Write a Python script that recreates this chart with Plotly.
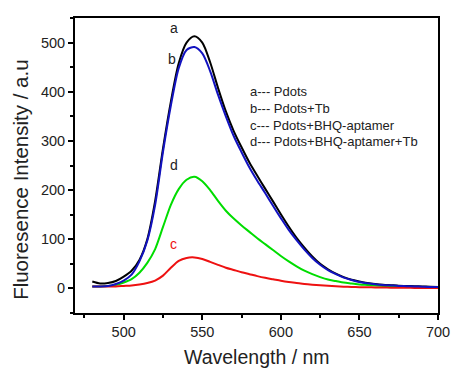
import plotly.graph_objects as go

wavelength = [480, 485, 490, 495, 500, 505, 510, 515, 520, 525, 530, 535, 540, 545,
              550, 555, 560, 565, 570, 575, 580, 585, 590, 595, 600, 605, 610, 615,
              620, 625, 630, 635, 640, 645, 650, 655, 660, 665, 670, 675, 680, 685,
              690, 695, 700]

pdots = [14, 10, 11, 15, 24, 36, 58, 100, 178, 285, 380, 458, 500, 513,
         500, 460, 408, 360, 320, 287, 256, 229, 203, 177, 151, 126, 103, 83,
         65, 50, 39, 30, 23, 17.5, 14, 11, 9, 7.5, 6.5, 5.5, 5, 4.5,
         4, 3.5, 3]

pdots_tb = [4, 4, 5, 9, 16, 28, 55, 97, 170, 278, 372, 448, 485, 491,
            478, 442, 394, 350, 310, 277, 246, 219, 194, 168, 143, 119, 98, 79,
            62, 48, 37, 29, 22, 17, 13, 10.5, 8.5, 7, 6, 5, 4.5, 4,
            3.5, 3, 3]

pdots_bhq = [4, 4, 4, 4, 5, 6, 8, 11, 16, 26, 42, 56, 62, 63,
             60, 54, 48, 42, 37.5, 33, 29, 25, 21.5, 18.5, 15.5, 13, 11, 9,
             7.5, 6.3, 5.2, 4.3, 3.6, 3, 2.6, 2.3, 2, 1.8, 1.5, 1.3, 1.2, 1.1,
             1, 1, 1]

pdots_bhq_tb = [4, 4, 5, 7, 12, 19, 32, 52, 80, 125, 170, 202, 221, 227,
                218, 200, 178, 158, 142, 128, 115, 102, 90, 78, 66, 55, 45, 36,
                29, 23, 18, 15, 12, 10, 8, 7, 6, 5, 4, 3.5, 3]

legend_lines = ["a--- Pdots", "b--- Pdots+Tb", "c--- Pdots+BHQ-aptamer",
                "d--- Pdots+BHQ-aptamer+Tb"]
legend_y = [400, 366, 332, 299]

curve_labels = ["a", "b", "d", "c"]
curve_label_x = [532, 531, 532, 531.5]
curve_label_y = [529, 467, 252, 90]
curve_label_colors = ["#222", "#222", "#222", "#ee1111"]

x_title = "Wavelength / nm"
y_title = "Fluoresence Intensity / a.u"

FONT = "Liberation Sans, Arial, sans-serif"

fig = go.Figure()
fig.add_trace(go.Scatter(x=wavelength, y=pdots, mode="lines",
                         line=dict(color="#000000", width=2, shape="spline", smoothing=0.8)))
fig.add_trace(go.Scatter(x=wavelength[:len(pdots_bhq_tb)], y=pdots_bhq_tb, mode="lines",
                         line=dict(color="#00dd00", width=2, shape="spline", smoothing=0.8)))
fig.add_trace(go.Scatter(x=wavelength, y=pdots_bhq, mode="lines",
                         line=dict(color="#ee1111", width=2, shape="spline", smoothing=0.8)))
fig.add_trace(go.Scatter(x=wavelength, y=pdots_tb, mode="lines",
                         line=dict(color="#1212c0", width=2, shape="spline", smoothing=0.8)))

for t, yv in zip(legend_lines, legend_y):
    fig.add_annotation(x=579.2, y=yv, text=t, showarrow=False, xanchor="left",
                       yanchor="middle", font=dict(family=FONT, size=13, color="#222"))

for t, xv, yv, c in zip(curve_labels, curve_label_x, curve_label_y, curve_label_colors):
    fig.add_annotation(x=xv, y=yv, text=t, showarrow=False, xanchor="center",
                       yanchor="middle", font=dict(family=FONT, size=14, color=c))

fig.add_annotation(xref="paper", yref="paper", x=0.5, y=-0.149, text=x_title,
                   showarrow=False, xanchor="center", yanchor="middle",
                   font=dict(family=FONT, size=19.5, color="#222"))
fig.add_annotation(xref="paper", yref="paper", x=-0.149, y=0.451, text=y_title,
                   showarrow=False, xanchor="center", yanchor="middle", textangle=-90,
                   font=dict(family=FONT, size=20.5, color="#222"))

axis_common = dict(ticks="outside", ticklen=5, tickwidth=1.5, tickcolor="black",
                   showline=True, linecolor="black", linewidth=2, mirror=True,
                   showgrid=False, zeroline=False, automargin=False,
                   tickfont=dict(size=14.5, family=FONT, color="#222"))

fig.update_layout(
    template="none",
    width=451, height=369,
    margin=dict(l=75, r=13, t=18, b=56, autoexpand=False),
    paper_bgcolor="white", plot_bgcolor="white",
    showlegend=False,
    font=dict(family=FONT, color="#222"),
    xaxis=dict(range=[469, 700], tick0=500, dtick=50,
               minor=dict(dtick=25, tick0=475, ticks="outside", ticklen=3,
                          tickcolor="black", tickwidth=1.5, showgrid=False),
               **axis_common),
    yaxis=dict(range=[-50, 550], tick0=0, dtick=100,
               minor=dict(dtick=50, ticks="outside", ticklen=3,
                          tickcolor="black", tickwidth=1.5, showgrid=False),
               **axis_common),
)

fig.write_html("out.html", config={"displayModeBar": False},
               post_script="document.body.style.margin='0';"
                           "document.body.style.overflow='hidden';")
